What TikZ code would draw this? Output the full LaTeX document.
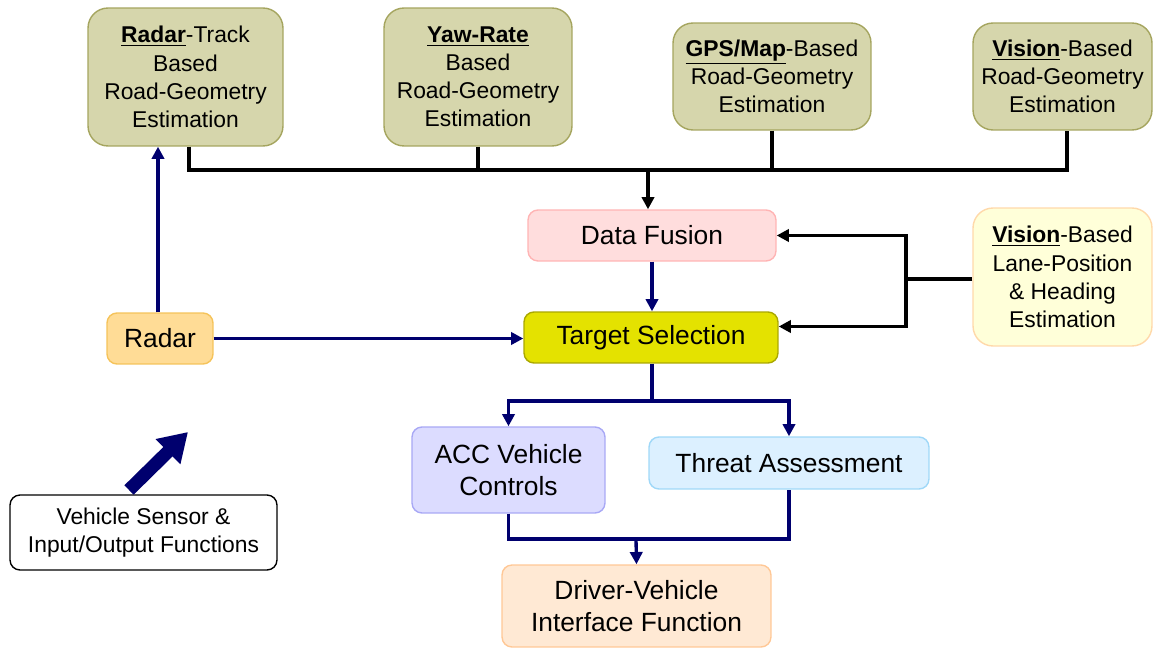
\documentclass[tikz,border=0pt]{standalone}
\usepackage{fontspec}
\setmainfont{Liberation Sans}
\usetikzlibrary{arrows.meta}

\definecolor{estfill}{RGB}{214,214,172}
\definecolor{estline}{RGB}{165,165,95}
\definecolor{fusionfill}{RGB}{255,221,221}
\definecolor{fusionline}{RGB}{255,180,180}
\definecolor{targetfill}{RGB}{228,226,0}
\definecolor{targetline}{RGB}{170,168,0}
\definecolor{lanefill}{RGB}{255,255,217}
\definecolor{laneline}{RGB}{255,217,170}
\definecolor{radarfill}{RGB}{255,220,150}
\definecolor{radarline}{RGB}{245,195,90}
\definecolor{accfill}{RGB}{220,220,255}
\definecolor{accline}{RGB}{168,168,245}
\definecolor{threatfill}{RGB}{220,240,255}
\definecolor{threatline}{RGB}{160,216,248}
\definecolor{driverfill}{RGB}{255,233,212}
\definecolor{driverline}{RGB}{255,200,150}
\definecolor{flownavy}{RGB}{0,0,110}

\tikzset{
  estbox/.style={draw=estline,fill=estfill,line width=0.8pt,rounded corners=0.4cm,
    align=center,inner sep=0pt,minimum height=2.76cm,font=\fontsize{13}{16}\selectfont},
  midbox/.style={line width=0.8pt,rounded corners=0.2cm,align=center,inner sep=0pt,
    minimum height=1.02cm,font=\fontsize{15}{18.5}\selectfont},
  navyline/.style={draw=flownavy,line width=1.9pt},
  navyarrow/.style={navyline,-{Triangle[length=7pt,width=7pt]}},
  blackline/.style={draw=black,line width=2pt},
  blackarrow/.style={blackline,-{Triangle[length=7pt,width=7pt]}},
}

\begin{document}
\begin{tikzpicture}[x=0.02cm,y=-0.02cm]
    \useasboundingbox (0,0) rectangle (1153,648);
    % Road-geometry estimators
    \node[estbox,minimum width=3.9cm] (radartrack) at (185.5,77)
        {\underline{\textbf{Radar}}-Track\\Based\\Road-Geometry\\Estimation};
    \node[estbox,minimum width=3.76cm] (yawrate) at (478,77)
        {\underline{\textbf{Yaw-Rate}}\\Based\\Road-Geometry\\Estimation};
    \node[estbox,minimum width=3.96cm,minimum height=2.14cm] (gpsmap) at (772,76.5)
        {\underline{\textbf{GPS/Map}}-Based\\Road-Geometry\\Estimation};
    \node[estbox,minimum width=3.58cm,minimum height=2.14cm] (visionroad) at (1062.5,76.5)
        {\underline{\textbf{Vision}}-Based\\Road-Geometry\\Estimation};
    % Fusion and selection
    \node[midbox,draw=fusionline,fill=fusionfill,minimum width=4.96cm] (fusion) at (652,235.5) {Data Fusion};
    \node[midbox,draw=targetline,fill=targetfill,minimum width=5.08cm] (target) at (651,337.5) {Target Selection};
    \node[estbox,draw=laneline,fill=lanefill,minimum width=3.58cm] (visionlane) at (1062.5,277)
        {\underline{\textbf{Vision}}-Based\\Lane-Position\\\& Heading\\Estimation};
    \node[midbox,draw=radarline,fill=radarfill,minimum width=2.12cm] (radar) at (160,338.5) {Radar};
    % Outputs
    \node[midbox,draw=accline,fill=accfill,minimum width=3.86cm,minimum height=1.72cm] (acc) at (508.5,470)
        {ACC Vehicle\\Controls};
    \node[midbox,draw=threatline,fill=threatfill,minimum width=5.6cm,minimum height=1.04cm] (threat) at (789,463)
        {Threat Assessment};
    \node[midbox,draw=driverline,fill=driverfill,minimum width=5.38cm,minimum height=1.64cm] (driver) at (636.5,606)
        {Driver-Vehicle\\Interface Function};
    % Sensor legend
    \node[draw=black,fill=white,line width=0.8pt,rounded corners=0.2cm,align=center,inner sep=0pt,
        minimum width=5.34cm,minimum height=1.5cm,font=\fontsize{13}{16}\selectfont] (sensor) at (143.5,532.5)
        {Vehicle Sensor \&\\Input/Output Functions};
    \coordinate (bigtail) at (129,490);
    \coordinate (bighead) at (188,432);
    \draw[draw=flownavy,line width=7.5pt,-{Triangle[length=16pt,width=19pt]}] (bigtail) -- (bighead);

    % Bus from estimators
    \coordinate (busjoin) at (648,170);
    \draw[blackline] ([xshift=0.07cm]radartrack.south) |- ([xshift=0.09cm]visionroad.south |- busjoin)
        -- ([xshift=0.09cm]visionroad.south);
    \draw[blackline] (yawrate.south) -- (yawrate.south |- busjoin);
    \draw[blackline] (gpsmap.south) -- (gpsmap.south |- busjoin);
    \draw[blackarrow] (busjoin) -- (busjoin |- fusion.north);
    % Lane position feed
    \coordinate (lanejoin) at (906,279);
    \draw[blackline] (visionlane.west |- lanejoin) -- (lanejoin);
    \draw[blackarrow] (lanejoin) |- (fusion.east);
    \draw[blackarrow] (lanejoin) |- ([yshift=0.22cm]target.east);
    % Radar
    \draw[navyarrow] ([xshift=-0.04cm]radar.north) -- ([xshift=-0.04cm]radar.north |- radartrack.south);
    \draw[navyarrow] (radar.east) -- (radar.east -| target.west);
    \draw[navyarrow] (fusion.south) -- (fusion.south |- target.north);
    % Split to outputs
    \coordinate (split) at (652,401);
    \draw[navyline] (target.south -| split) -- (split);
    \draw[navyarrow] (split) -| (acc.north);
    \draw[navyarrow] (split) -| (threat.north);
    % Merge to driver interface
    \coordinate (merge) at (636,539);
    \draw[navyline] (acc.south) |- (threat.south |- merge) -- (threat.south);
    \draw[navyarrow] (merge) -- (driver.north);
\end{tikzpicture}
\end{document}
